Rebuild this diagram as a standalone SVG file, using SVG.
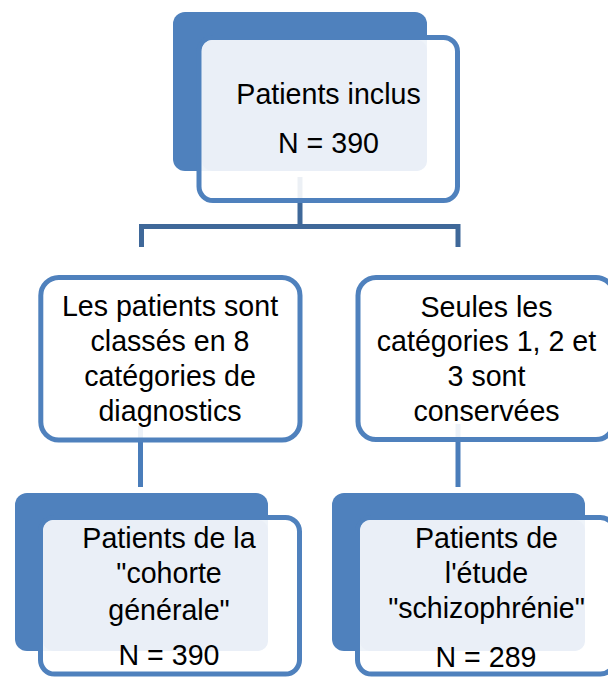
<svg xmlns="http://www.w3.org/2000/svg" width="608" height="678" viewBox="0 0 608 678">
<style>
.dark{fill:#4F81BD;}
.outline{fill:#FFFFFF;fill-opacity:0.9;stroke:#4F81BD;stroke-width:5;}
.light{fill:#EAEFF7;}
.box{fill:#FFFFFF;fill-opacity:0.9;stroke:#4F81BD;stroke-width:5;}
.txt{font-family:"Liberation Sans",Arial,sans-serif;font-size:28.6px;fill:#000000;text-anchor:middle;}
.conn1{fill:none;stroke:#3F6899;stroke-width:5;stroke-linejoin:miter;}
.conn2{fill:none;stroke:#4A7DBA;stroke-width:5;}
</style>
<g id="connectors">
<path class="conn1" d="M300,177 V226.5"/>
<path class="conn1" d="M141.5,247 V226.5 H458 V247"/>
<path class="conn2" d="M140.5,426 V487"/>
<path class="conn2" d="M458,424 V487"/>
</g>
<g id="node-top">
<rect class="dark" x="173" y="12" width="254" height="159" rx="12"/>
<rect class="outline" x="199" y="37.5" width="258.5" height="163" rx="14"/>
<rect class="light" x="202" y="40" width="225" height="131" rx="10"/>
<text class="txt" x="328.5" y="103.5">Patients inclus</text>
<text class="txt" x="328.5" y="152.5">N = 390</text>
</g>
<g id="node-mid-left">
<rect class="box" x="40.8" y="277.5" width="259.2" height="162.5" rx="18"/>
<text class="txt" x="170" y="315.5">Les patients sont</text>
<text class="txt" x="170" y="351">classés en 8</text>
<text class="txt" x="170" y="385.7">catégories de</text>
<text class="txt" x="170" y="421">diagnostics</text>
</g>
<g id="node-mid-right">
<rect class="box" x="358" y="277.5" width="256" height="162" rx="18"/>
<text class="txt" x="486.5" y="316.5">Seules les</text>
<text class="txt" x="486.5" y="351">catégories 1, 2 et</text>
<text class="txt" x="486.5" y="385.7">3 sont</text>
<text class="txt" x="486.5" y="421">conservées</text>
</g>
<g id="node-bottom-left">
<rect class="dark" x="15" y="493" width="253" height="158" rx="12"/>
<rect class="outline" x="40.5" y="517.5" width="259" height="156.5" rx="14"/>
<rect class="light" x="43" y="520" width="225" height="131" rx="10"/>
<text class="txt" x="169" y="548.3">Patients de la</text>
<text class="txt" x="169" y="583.3">"cohorte</text>
<text class="txt" x="169" y="620">générale"</text>
<text class="txt" x="169" y="665">N = 390</text>
</g>
<g id="node-bottom-right">
<rect class="dark" x="332" y="493" width="253" height="158" rx="12"/>
<rect class="outline" x="357.5" y="517.5" width="257" height="156.5" rx="14"/>
<rect class="light" x="360" y="520" width="225" height="131" rx="10"/>
<text class="txt" x="486.5" y="548.3">Patients de</text>
<text class="txt" x="486.5" y="583.3">l'étude</text>
<text class="txt" x="486.5" y="618.3">"schizophrénie"</text>
<text class="txt" x="486" y="666.5">N = 289</text>
</g>
</svg>
